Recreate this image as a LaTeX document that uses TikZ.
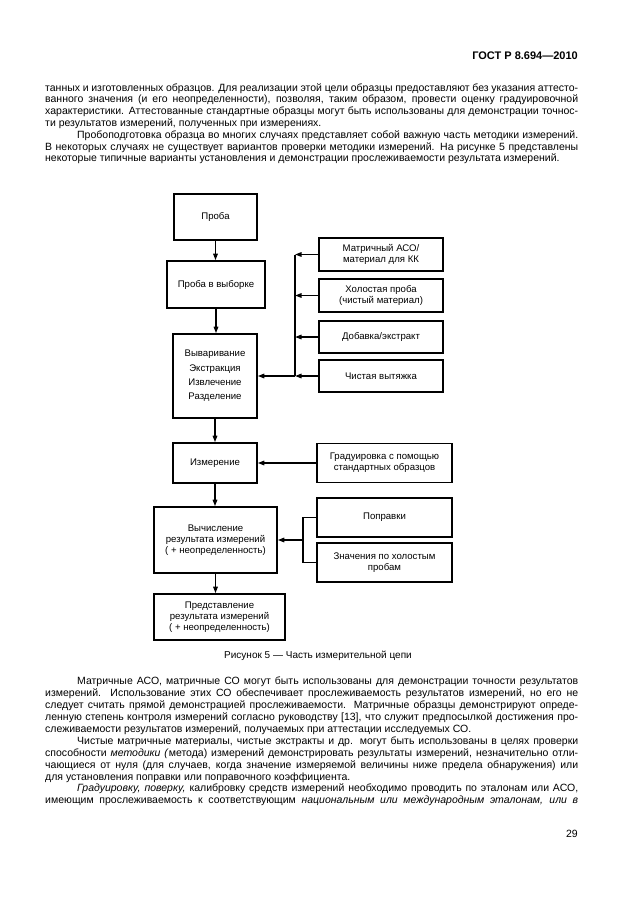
\documentclass[tikz,border=0pt]{standalone}
\usepackage{fontspec}
\setmainfont{Liberation Sans}
\usetikzlibrary{arrows.meta}
\newcommand\bodyf{\fontsize{10.5}{12}\selectfont}
\newcommand\dgf{\fontsize{9.6}{11.2}\selectfont}
\newcommand\jl[1]{\makebox[533pt][s]{#1}}
\newcommand\jli[1]{\hspace*{32pt}\makebox[501pt][s]{#1}}
\begin{document}
\begin{tikzpicture}[x=1pt,y=-1pt,
  box/.style={draw, line width=1.6pt, align=center, inner sep=0pt, font=\dgf},
  txt/.style={anchor=base west, inner sep=0pt, font=\bodyf},
  conn/.style={line width=1.4pt},
  arr/.style={line width=1.4pt, -{Triangle[length=6.5pt,width=4.5pt]}}]
\useasboundingbox[fill=white] (0,0) rectangle (630,913);

% header
\node[anchor=base east, inner sep=0pt, font=\fontsize{11}{13}\selectfont\bfseries] (hdr) at (578,59) {ГОСТ Р 8.694—2010};

% upper text
\node[txt] (a1) at (45,91) {\jl{танных и изготовленных образцов. Для реализации этой цели образцы предоставляют без указания аттесто-}};
\node[txt] (a2) at (45,102.8) {\jl{ванного значения (и его неопределенности), позволяя, таким образом, провести оценку градуировочной}};
\node[txt] (a3) at (45,114.6) {\jl{характеристики. Аттестованные стандартные образцы могут быть использованы для демонстрации точнос-}};
\node[txt] (a4) at (45,126.2) {ти результатов измерений, полученных при измерениях.};
\node[txt] (a5) at (45,138.6) {\jli{Пробоподготовка образца во многих случаях представляет собой важную часть методики измерений.}};
\node[txt] (a6) at (45,150.2) {\jl{В некоторых случаях не существует вариантов проверки методики измерений. На рисунке 5 представлены}};
\node[txt] (a7) at (45,161.9) {некоторые типичные варианты установления и демонстрации прослеживаемости результата измерений.};

% diagram boxes
\node[box, minimum width=83, minimum height=46] (proba) at (215.5,217) {Проба};
\node[box, minimum width=98, minimum height=47] (vyb) at (216,284.5) {Проба в выборке};
\node[box, minimum width=84, minimum height=84, font=\fontsize{9.6}{14.3}\selectfont] (vyv) at (215,376) {Вываривание\\Экстракция\\Извлечение\\Разделение};
\node[box, minimum width=124, minimum height=33] (m1) at (381,254.5) {Матричный АСО/\\материал для КК};
\node[box, minimum width=124, minimum height=33] (m2) at (381,295.5) {Холостая проба\\(чистый материал)};
\node[box, minimum width=124, minimum height=32] (m3) at (381,337) {Добавка/экстракт};
\node[box, minimum width=124, minimum height=32] (m4) at (381,376) {Чистая вытяжка};
\node[box, minimum width=84, minimum height=40] (izm) at (215,463) {Измерение};
\node[box, minimum width=135, minimum height=39] (grad) at (384.5,463) {Градуировка с помощью\\стандартных образцов};
\node[box, minimum width=123, minimum height=66] (vych) at (215.5,540) {Вычисление\\результата измерений\\( + неопределенность)};
\node[box, minimum width=135, minimum height=39] (popr) at (384.5,517.5) {Поправки};
\node[box, minimum width=135, minimum height=39] (znach) at (384.5,562.5) {Значения по холостым\\пробам};
\node[box, minimum width=131, minimum height=46] (pred) at (219.5,617) {Представление\\результата измерений\\( + неопределенность)};

% connectors
\draw[arr] (proba.south) -- (proba.south |- vyb.north);
\draw[arr] (vyb.south) -- (vyb.south |- vyv.north);
\draw[arr] (vyv.south) -- (vyv.south |- izm.north);
\draw[arr] (izm.south) -- (izm.south |- vych.north);
\draw[arr] (vych.south) -- (vych.south |- pred.north);

\coordinate (bt) at (295,254.5);
\coordinate (bb) at (295,376);
\draw[conn] (bt) -- (bb);
\draw[arr] (m1.west) -- (m1.west -| bt);
\draw[arr] (m2.west) -- (m2.west -| bt);
\draw[arr] (m3.west) -- (m3.west -| bt);
\draw[arr] (m4.west) -- (m4.west -| bt);
\draw[arr] (bb) -- (vyv.east);

\draw[arr] (grad.west) -- (izm.east);

\coordinate (bx) at (303,540);
\draw[conn] (popr.west) -| (bx);
\draw[conn] (znach.west) -| (bx);
\draw[arr] (bx) -- (vych.east);

% caption
\node[anchor=base, inner sep=0pt, font=\fontsize{10}{12}\selectfont] (cap) at (318,658) {Рисунок 5 — Часть измерительной цепи};

% lower text
\node[txt] (b1) at (45,684.4) {\jli{Матричные АСО, матричные СО могут быть использованы для демонстрации точности результатов}};
\node[txt] (b2) at (45,696.35) {\jl{измерений. Использование этих СО обеспечивает прослеживаемость результатов измерений, но его не}};
\node[txt] (b3) at (45,708.3) {\jl{следует считать прямой демонстрацией прослеживаемости. Матричные образцы демонстрируют опреде-}};
\node[txt] (b4) at (45,720.25) {\jl{ленную степень контроля измерений согласно руководству [13], что служит предпосылкой достижения про-}};
\node[txt] (b5) at (45,732.2) {слеживаемости результатов измерений, получаемых при аттестации исследуемых СО.};
\node[txt] (b6) at (45,744.15) {\jli{Чистые матричные материалы, чистые экстракты и др. могут быть использованы в целях проверки}};
\node[txt] (b7) at (45,756.1) {\jl{способности \textit{методики (}метода) измерений демонстрировать результаты измерений, незначительно отли-}};
\node[txt] (b8) at (45,768.05) {\jl{чающиеся от нуля (для случаев, когда значение измеряемой величины ниже предела обнаружения) или}};
\node[txt] (b9) at (45,780) {для установления поправки или поправочного коэффициента.};
\node[txt] (b10) at (45,791.95) {\jli{\textit{Градуировку, поверку,} калибровку средств измерений необходимо проводить по эталонам или АСО,}};
\node[txt] (b11) at (45,803.9) {\jl{имеющим прослеживаемость к соответствующим \textit{национальным или международным эталонам, или в}}};

\node[anchor=base east, inner sep=0pt, font=\bodyf] (pg) at (578,837.5) {29};
\end{tikzpicture}
\end{document}
